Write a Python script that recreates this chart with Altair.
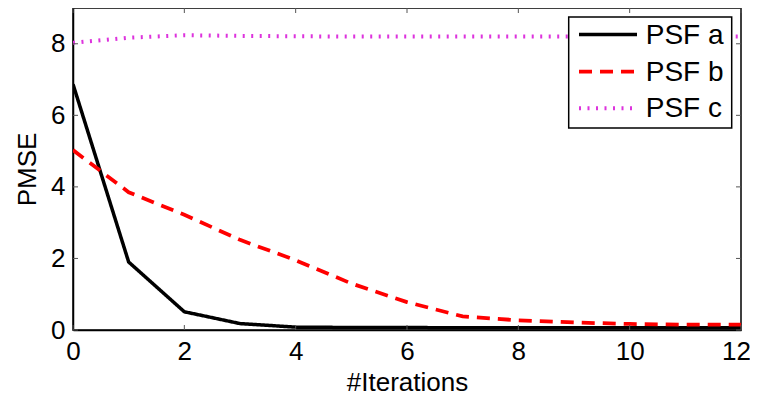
import altair as alt
import pandas as pd

# ---- data ----
iterations = list(range(13))
psf_a = [6.87, 1.90, 0.51, 0.18, 0.08, 0.07, 0.07, 0.06, 0.06, 0.06, 0.06, 0.06, 0.06]
psf_b = [5.03, 3.85, 3.22, 2.52, 1.95, 1.30, 0.78, 0.38, 0.27, 0.21, 0.17, 0.15, 0.15]
psf_c = [8.03, 8.17, 8.24, 8.22, 8.21, 8.20, 8.20, 8.20, 8.20, 8.20, 8.20, 8.20, 8.20]
series_names = ["PSF a", "PSF b", "PSF c"]
x_ticks = [0, 2, 4, 6, 8, 10, 12]
y_ticks = [0, 2, 4, 6, 8]

colors = ["#000000", "#ff0000", "#dd33dd"]
dashes = [[1, 0], [13, 8], [2, 6.5]]
widths = [3.5, 4, 2.2]

W, H = 668, 322
FONT = "Liberation Sans"

rows = []
for name, vals in zip(series_names, [psf_a, psf_b, psf_c]):
    for it, v in zip(iterations, vals):
        rows.append({"iter": it, "pmse": v, "series": name})
df = pd.DataFrame(rows)

color_scale = alt.Scale(domain=series_names, range=colors)
dash_scale = alt.Scale(domain=series_names, range=dashes)
width_scale = alt.Scale(domain=series_names, range=widths)

xs = alt.Scale(domain=[0, 12], nice=False, zero=False)
ys = alt.Scale(domain=[0, 9], nice=False, zero=False)
x_axis = alt.Axis(values=x_ticks, tickSize=0, labelPadding=8, titlePadding=5,
                  grid=False, format="d", title="#Iterations", labelFlush=False,
                  labelOffset={"condition": {"test": "datum.value == 12", "value": -5}, "value": 0})
y_axis = alt.Axis(values=y_ticks, tickSize=0, labelPadding=8, titlePadding=10,
                  grid=False, format="d", title="PMSE", labelFlush=False)

lines = alt.Chart(df).mark_line(clip=True).encode(
    x=alt.X("iter:Q", scale=xs, axis=x_axis),
    y=alt.Y("pmse:Q", scale=ys, axis=y_axis),
    color=alt.Color("series:N", scale=color_scale, legend=None),
    strokeDash=alt.StrokeDash("series:N", scale=dash_scale, legend=None),
    strokeWidth=alt.StrokeWidth("series:N", scale=width_scale, legend=None),
    order=alt.Order("iter:Q"),
)

xt = pd.DataFrame({"t": x_ticks})
yt = pd.DataFrame({"t": y_ticks})
TL = 5
tick_color = "#555555"
xb = alt.Chart(xt).mark_rule(color=tick_color, strokeWidth=1).encode(
    x=alt.X("t:Q", scale=xs, axis=x_axis), y=alt.value(H), y2=alt.value(H - TL))
xtop = alt.Chart(xt).mark_rule(color=tick_color, strokeWidth=1).encode(
    x=alt.X("t:Q", scale=xs, axis=x_axis), y=alt.value(0), y2=alt.value(TL))
yl = alt.Chart(yt).mark_rule(color=tick_color, strokeWidth=1).encode(
    y=alt.Y("t:Q", scale=ys, axis=y_axis), x=alt.value(0), x2=alt.value(TL))
yr = alt.Chart(yt).mark_rule(color=tick_color, strokeWidth=1).encode(
    y=alt.Y("t:Q", scale=ys, axis=y_axis), x=alt.value(W), x2=alt.value(W - TL))

# ---- legend drawn by hand ----
box = alt.Chart(pd.DataFrame({"a": [0]})).mark_rect(
    fill="white", stroke="black", strokeWidth=1.5).encode(
    x=alt.value(495.7), x2=alt.value(658.7), y=alt.value(9), y2=alt.value(120))

leg = pd.DataFrame({"series": series_names, "ly": [26.6, 63.6, 100.3]})
leg_lines = alt.Chart(leg).mark_rule().encode(
    x=alt.value(506), x2=alt.value(564),
    y=alt.Y("ly:Q", scale=None, axis=None),
    color=alt.Color("series:N", scale=color_scale, legend=None),
    strokeDash=alt.StrokeDash("series:N", scale=dash_scale, legend=None),
    strokeWidth=alt.StrokeWidth("series:N", scale=width_scale, legend=None),
)
leg_text = alt.Chart(leg).mark_text(
    align="left", baseline="middle", font=FONT, fontSize=28, color="black", dy=1).encode(
    x=alt.value(572.7), y=alt.Y("ly:Q", scale=None, axis=None), text="series:N")

chart = alt.layer(lines, xb, xtop, yl, yr, box, leg_lines, leg_text).properties(
    width=W, height=H,
    autosize=alt.AutoSizeParams(type="none"),
    padding={"left": 65, "top": 0, "right": 9, "bottom": 68},
).configure_view(stroke="black", strokeWidth=1.5).configure_axis(
    labelFont=FONT, labelFontSize=26, labelColor="black",
    titleFont=FONT, titleFontSize=26, titleFontWeight="normal", titleColor="black",
    domainColor="black", domainWidth=1.5,
).resolve_scale(color="shared", strokeDash="shared", strokeWidth="shared")

chart.save("out.html", embed_options={"renderer": "svg", "actions": False})
